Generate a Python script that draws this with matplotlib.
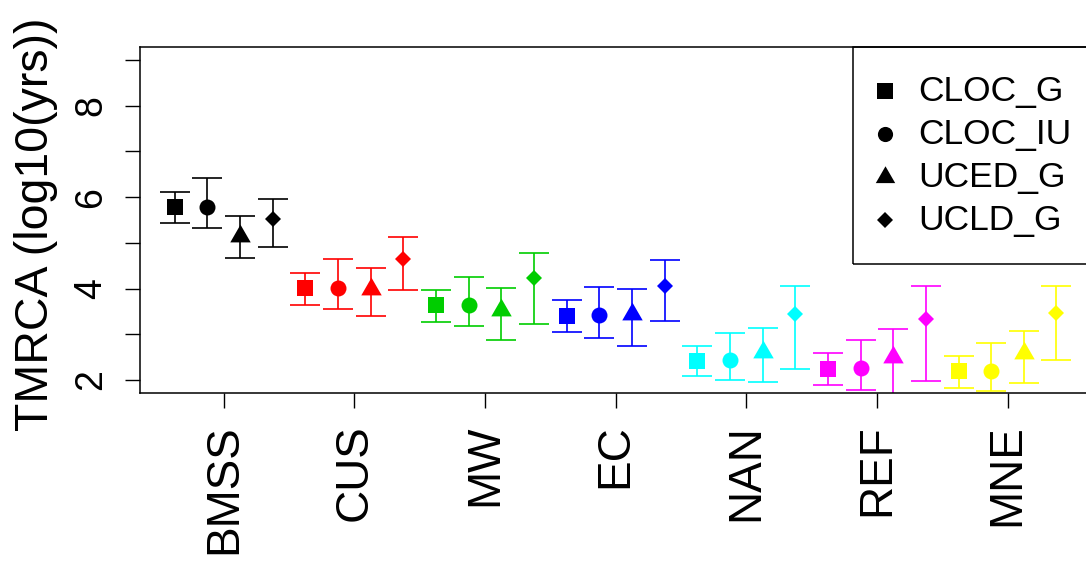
import matplotlib
matplotlib.use("Agg")
import matplotlib.pyplot as plt
from matplotlib.patches import Rectangle

plt.rcParams['font.family'] = ['Liberation Sans', 'DejaVu Sans']

populations = ["BMSS", "CUS", "MW", "EC", "NAN", "REF", "MNE"]
pop_colors = ["black", "red", "#00CD00", "blue", "cyan", "magenta", "yellow"]
methods = ["CLOC_G", "CLOC_IU", "UCED_G", "UCLD_G"]

# TMRCA estimates per method (log10 years), one value per population
cloc_g_mean = [5.78, 4.01, 3.64, 3.41, 2.42, 2.24, 2.19]
cloc_g_lo = [5.43, 3.65, 3.27, 3.06, 2.09, 1.88, 1.83]
cloc_g_hi = [6.11, 4.34, 3.97, 3.75, 2.74, 2.58, 2.52]

cloc_iu_mean = [5.79, 4.02, 3.65, 3.42, 2.43, 2.26, 2.20]
cloc_iu_lo = [5.33, 3.55, 3.18, 2.92, 2.00, 1.78, 1.75]
cloc_iu_hi = [6.41, 4.64, 4.26, 4.04, 3.03, 2.87, 2.80]

uced_g_mean = [5.16, 3.98, 3.54, 3.44, 2.61, 2.51, 2.59]
uced_g_lo = [4.66, 3.41, 2.87, 2.75, 1.95, 1.60, 1.94]
uced_g_hi = [5.58, 4.45, 4.02, 4.00, 3.14, 3.12, 3.07]

ucld_g_mean = [5.52, 4.64, 4.24, 4.05, 3.44, 3.33, 3.47]
ucld_g_lo = [4.91, 3.96, 3.23, 3.28, 2.24, 1.98, 2.44]
ucld_g_hi = [5.96, 5.13, 4.78, 4.63, 4.05, 4.06, 4.05]

means = [cloc_g_mean, cloc_iu_mean, uced_g_mean, ucld_g_mean]
lows = [cloc_g_lo, cloc_iu_lo, uced_g_lo, ucld_g_lo]
highs = [cloc_g_hi, cloc_iu_hi, uced_g_hi, ucld_g_hi]

# R-style pch 17 triangle: point sits below the triangle's box centre
tri = [(0, 1.555), (1.347, -0.778), (-1.347, -0.778)]
markers = ["s", "o", tri, "D"]
msizes = [12, 11.5, 17, 8.5]

fig = plt.figure(figsize=(10.86, 5.62), dpi=100)
ax = fig.add_axes([0.1285, 0.3012, 0.8768, 0.6146])

for p, col in enumerate(pop_colors):
    for m in range(4):
        xi = p * 4 + m + 1
        y = means[m][p]
        ax.errorbar([xi], [y], yerr=[[y - lows[m][p]], [highs[m][p] - y]],
                    fmt="none", ecolor=col, elinewidth=1.2, capsize=10.6,
                    capthick=1.2)
        ax.plot([xi], [y], marker=markers[m], ms=msizes[m], color=col,
                mew=0, linestyle="none")

ax.set_xlim(-0.08, 29.08)
ax.set_ylim(1.72, 9.28)
ax.set_xticks([4 * i + 2.5 for i in range(len(populations))])
ax.set_xticklabels(populations, rotation=90, fontsize=33)
ax.set_yticks(range(2, 10))
ax.set_yticklabels([str(v) if v % 2 == 0 else "" for v in range(2, 10)],
                   rotation=90, va="center", fontsize=27)
ax.tick_params(axis="x", length=10.8, width=1.0, pad=12)
ax.tick_params(axis="y", length=10.8, width=1.0, pad=11)
for s in ax.spines.values():
    s.set_linewidth(1.1)

fig.text(36 / 1086, 1 - 224 / 562, "TMRCA (log10(yrs))", rotation=90,
         ha="center", va="center", fontsize=33.5)

# legend box in the top right corner
ax.add_patch(Rectangle((0.7489, 0.3726), 0.2511, 0.6274, transform=ax.transAxes,
                       fill=False, edgecolor="black", linewidth=1.1, clip_on=False))
row_px = [91, 134, 177, 220]
for m, lab in enumerate(methods):
    ya = (392.7 - row_px[m]) / 345.4
    ax.plot([0.7829], [ya], marker=markers[m], ms=msizes[m] * 0.95, color="black",
            mew=0, transform=ax.transAxes, clip_on=False)
    ax.text(0.8176, ya, lab, transform=ax.transAxes, va="center", ha="left",
            fontsize=25.5)

fig.savefig("out.png", dpi=100)
